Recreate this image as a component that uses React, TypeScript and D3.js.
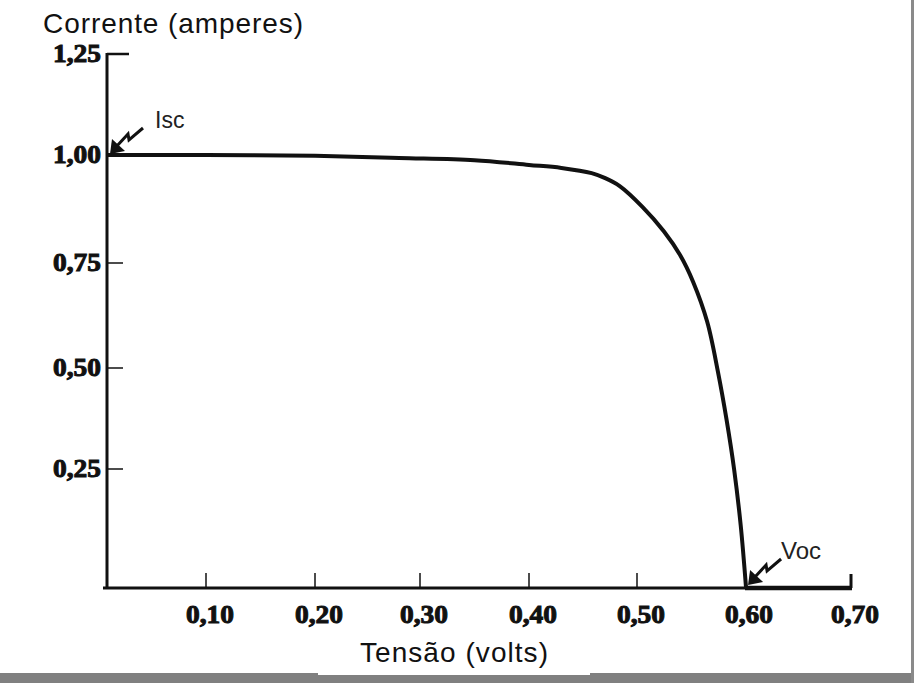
import React from "react";
import { scaleLinear, line, curveCatmullRom } from "d3";

// I-V curve of a solar cell
const voltage = [0, 0.1, 0.2, 0.28, 0.35, 0.4, 0.43, 0.458, 0.47, 0.484, 0.505, 0.525, 0.54, 0.552, 0.565, 0.575, 0.583, 0.59, 0.596, 0.601];
const current = [1.0, 1.0, 0.998, 0.993, 0.988, 0.977, 0.97, 0.958, 0.947, 0.928, 0.88, 0.823, 0.768, 0.705, 0.61, 0.49, 0.371, 0.248, 0.132, 0.0];

const xTicks = [0.1, 0.2, 0.3, 0.4, 0.5, 0.6, 0.7];
const xTickLabels = ["0,10", "0,20", "0,30", "0,40", "0,50", "0,60", "0,70"];
const yTicks = [0.25, 0.5, 0.75, 1.0, 1.25];
const yTickLabels = ["0,25", "0,50", "0,75", "1,00", "1,25"];

const isc = { v: 0, i: 1.0, label: "Isc" };
const voc = { v: 0.601, i: 0, label: "Voc" };

const width = 914;
const height = 683;

// hand-drawn axes: spacing is not quite even, so piecewise scales
const x = scaleLinear()
  .domain([0, 0.1, 0.2, 0.3, 0.4, 0.5, 0.6, 0.7])
  .range([107, 206, 315, 420, 529, 637, 745, 851]);
const y = scaleLinear()
  .domain([0, 0.25, 0.5, 0.75, 1.0, 1.25])
  .range([588, 469, 368, 263, 155, 54]);

const tickFont = "'Liberation Serif', 'DejaVu Serif', serif";
const sansFont = "'Liberation Sans', Arial, sans-serif";

// lightning-style arrow pointing down-left to (px, py)
const boltPath = (px: number, py: number) =>
  `M${px + 33},${py - 26} L${px + 19},${py - 14} L${px + 18},${py - 20} L${px + 6},${py - 7}`;
const boltHead = (px: number, py: number) =>
  `M${px},${py} L${px + 2},${py - 15} L${px + 15},${py - 3} Z`;

export default function App() {
  const curve = line<number>()
    .x((d) => x(d))
    .y((_, k) => y(current[k]))
    .curve(curveCatmullRom.alpha(0.5))(voltage);

  const x0 = x(0);
  const yBase = y(0);
  const iscX = x(isc.v) + 3;
  const iscY = y(isc.i) - 1;
  const vocX = x(voc.v) + 2;
  const vocY = y(voc.i) - 3;

  const tickText = {
    fontFamily: tickFont,
    fontWeight: "bold",
    fontSize: 26,
    fill: "#111",
    stroke: "#111",
    strokeWidth: 1,
    textLength: 48,
    lengthAdjust: "spacingAndGlyphs",
  } as const;

  return (
    <svg
      width={width}
      height={height}
      style={{ position: "absolute", left: 0, top: 0, background: "#fff" }}
    >
      {/* bottom grey strip */}
      <rect x={0} y={673} width={width} height={10} fill="#808080" />
      <rect x={318} y={668} width={272} height={7} fill="#fff" />
      <rect x={911} y={0} width={3} height={height} fill="#8a8a8a" />

      <text x={43} y={33} fontFamily={sansFont} fontSize={28} fill="#111" textLength={260}>
        Corrente (amperes)
      </text>

      {/* y axis */}
      <line x1={x0} x2={x0} y1={y(1.25) - 1} y2={yBase + 1} stroke="#111" strokeWidth={3} />
      {yTicks.map((t, k) => (
        <g key={t}>
          <line
            x1={x0}
            x2={x0 + (t === 1.25 ? 22 : 16)}
            y1={y(t)}
            y2={y(t)}
            stroke="#111"
            strokeWidth={t === 1.25 ? 2.5 : 1.5}
          />
          <text x={x0 - 6} y={y(t) + 8} textAnchor="end" {...tickText}>
            {yTickLabels[k]}
          </text>
        </g>
      ))}

      {/* x axis */}
      <line x1={x0 - 4} x2={x(0.6)} y1={yBase} y2={yBase} stroke="#111" strokeWidth={3} />
      <line x1={x(0.6)} x2={x(0.7) + 1} y1={yBase} y2={yBase} stroke="#111" strokeWidth={4.5} />
      {xTicks.map((t, k) => (
        <g key={t}>
          <line
            x1={x(t)}
            x2={x(t)}
            y1={yBase}
            y2={yBase - (t === 0.7 ? 14 : 15)}
            stroke="#111"
            strokeWidth={t === 0.7 ? 3 : 1.5}
          />
          <text x={x(t) + 4} y={623} textAnchor="middle" {...tickText}>
            {xTickLabels[k]}
          </text>
        </g>
      ))}

      <text x={360} y={662} fontFamily={sansFont} fontSize={28} fill="#111" textLength={188}>
        Tensão (volts)
      </text>

      {/* I-V curve */}
      <path d={curve ?? ""} fill="none" stroke="#111" strokeWidth={4} strokeLinejoin="round" />

      {/* Isc marker */}
      <path d={boltPath(iscX, iscY)} fill="none" stroke="#111" strokeWidth={3} />
      <path d={boltHead(iscX, iscY)} fill="#111" />
      <text x={155} y={128} fontFamily={sansFont} fontSize={23} fill="#222">
        {isc.label}
      </text>

      {/* Voc marker */}
      <path d={boltPath(vocX, vocY)} fill="none" stroke="#111" strokeWidth={3} />
      <path d={boltHead(vocX, vocY)} fill="#111" />
      <text x={781} y={559} fontFamily={sansFont} fontSize={24} fill="#222">
        {voc.label}
      </text>
    </svg>
  );
}
